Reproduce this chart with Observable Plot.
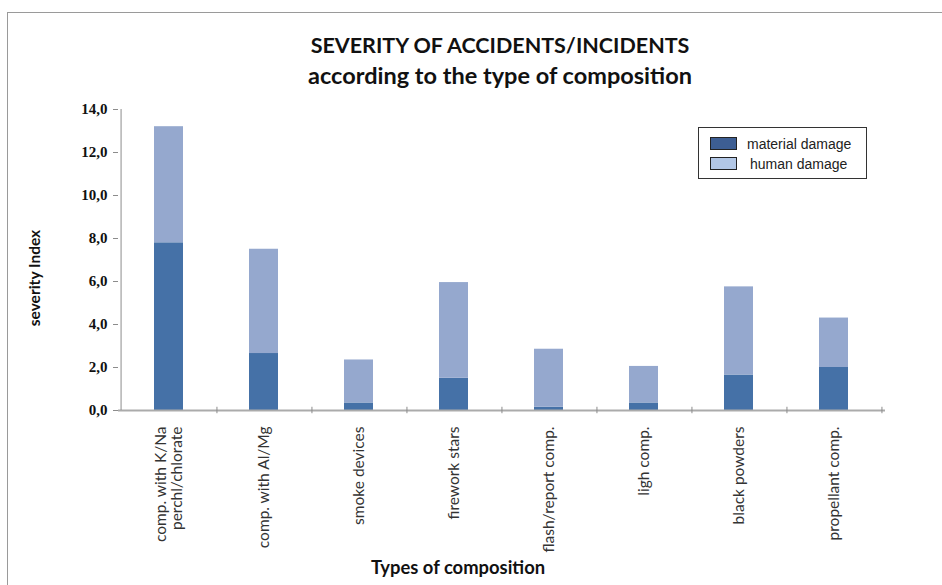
<!DOCTYPE html>
<html>
<head>
<meta charset="utf-8">
<script src="https://cdn.jsdelivr.net/npm/d3@7"></script>
<script src="https://cdn.jsdelivr.net/npm/@observablehq/plot@0.6"></script>
<style>
  html, body { margin: 0; padding: 0; background: #fff; }
  body { width: 942px; height: 585px; overflow: hidden; position: relative; }
  #frame { position: absolute; left: 7px; top: 12px; width: 1000px; height: 1000px;
           border-left: 1px solid #9a9a9a; border-top: 1px solid #9a9a9a; pointer-events: none; }
  #title { box-sizing: border-box; width: 942px; height: 95px; padding-left: 58px; padding-top: 31px;
           text-align: center; font-family: Lato, "Open Sans", sans-serif; font-weight: bold;
           line-height: 28px; color: #111; }
  #t1 { font-size: 21.5px; }
  #t2 { font-size: 23.5px; }
  #legend { position: absolute; left: 698px; top: 127px; width: 167px; height: 50px;
            border: 1px solid #333; background: #fff; font-family: "Liberation Sans", Arial, sans-serif;
            font-size: 14px; color: #222; }
  .item { position: absolute; left: 11px; height: 14px; }
  .sw { position: absolute; left: 0; width: 25px; height: 11px; border: 1px solid #222; }
  .lab { position: absolute; white-space: nowrap; line-height: 14px; }
</style>
</head>
<body>
<div id="frame"></div>
<div id="title"><span id="t1">SEVERITY OF ACCIDENTS/INCIDENTS</span><br><span id="t2">according to the type of composition</span></div>
<div id="chart"></div>
<div id="legend"></div>
<script>
// ---- data ----
const categories = ["comp. with K/Na perchl/chlorate", "comp. with Al/Mg", "smoke devices", "firework stars",
                    "flash/report comp.", "ligh comp.", "black powders", "propellant comp."];
const tickLabels = ["comp. with K/Na\nperchl/chlorate", "comp. with Al/Mg", "smoke devices", "firework stars",
                    "flash/report comp.", "ligh comp.", "black powders", "propellant comp."];
const seriesNames = ["material damage", "human damage"];
const material = [7.8, 2.65, 0.35, 1.5, 0.15, 0.35, 1.65, 2.0];
const human    = [5.4, 4.85, 2.0, 4.45, 2.7, 1.7, 4.1, 2.3];
const yTicks = [0, 2, 4, 6, 8, 10, 12, 14];
const barColors = ["#4571a7", "#95a8ce"];
const legendColors = ["#3d5e93", "#b2c7e6"];
const yLabel = "severity Index";
const xLabel = "Types of composition";

const data = categories.flatMap((c, i) => [
  {cat: c, type: seriesNames[0], value: material[i]},
  {cat: c, type: seriesNames[1], value: human[i]}
]);

const W = 942, H = 490, mL = 118, mR = 57, mT = 14, mB = 175;
const step = (W - mL - mR) / categories.length;

const chart = Plot.plot({
  width: W, height: H,
  marginLeft: mL, marginRight: mR, marginTop: mT, marginBottom: mB,
  x: {domain: categories, paddingInner: 0.69, paddingOuter: 0.345, align: 0.5, label: null},
  y: {domain: [0, 14], label: null},
  color: {domain: seriesNames, range: barColors},
  marks: [
    Plot.barY(data, Plot.stackY({x: "cat", y: "value", fill: "type", order: null})),
    Plot.ruleY([0], {stroke: "#ababab", strokeWidth: 2}),
    Plot.ruleX([categories[0]], {x: d => d, y1: 0, y2: 14, dx: -step / 2, stroke: "#8c8c8c", strokeWidth: 1}),
    Plot.ruleX(categories, {x: d => d, y1: -0.15, y2: 0.15, dx: step / 2, stroke: "#8c8c8c"}),
    Plot.axisX({tickSize: 0, tickRotate: -90, tickPadding: 16,
                tickFormat: d => tickLabels[categories.indexOf(d)],
                fontSize: 15.5, fontFamily: "Lato, 'Open Sans', sans-serif", fill: "#333", label: null}),
    Plot.axisY({ticks: yTicks, tickSize: 5, tickPadding: 6,
                tickFormat: d => d.toFixed(1).replace(".", ","),
                fontSize: 15, fontFamily: "'Liberation Serif', serif", fontWeight: "bold",
                fill: "#111", stroke: "#8c8c8c", label: null}),
    Plot.text([yLabel], {text: d => d, frameAnchor: "left", textAnchor: "middle", dx: -83, dy: 18, rotate: -90,
                         fontSize: 15.5, fontWeight: "bold", fontFamily: "Lato, 'Open Sans', sans-serif", fill: "#111"}),
    Plot.text([xLabel], {text: d => d, frameAnchor: "bottom", dx: -44, dy: 163,
                         fontSize: 18.4, fontWeight: "bold", fontFamily: "Lato, 'Open Sans', sans-serif", fill: "#111"})
  ]
});
document.getElementById("chart").appendChild(chart);

// ---- legend ----
const legend = document.getElementById("legend");
const itemTops = [9, 29];
const labelLefts = [37, 40];
seriesNames.forEach((name, i) => {
  const item = document.createElement("div");
  item.className = "item";
  item.style.top = itemTops[i] + "px";
  const sw = document.createElement("div");
  sw.className = "sw";
  sw.style.background = legendColors[i];
  const lab = document.createElement("div");
  lab.className = "lab";
  lab.style.left = labelLefts[i] + "px";
  lab.textContent = name;
  item.appendChild(sw);
  item.appendChild(lab);
  legend.appendChild(item);
});
</script>
</body>
</html>
